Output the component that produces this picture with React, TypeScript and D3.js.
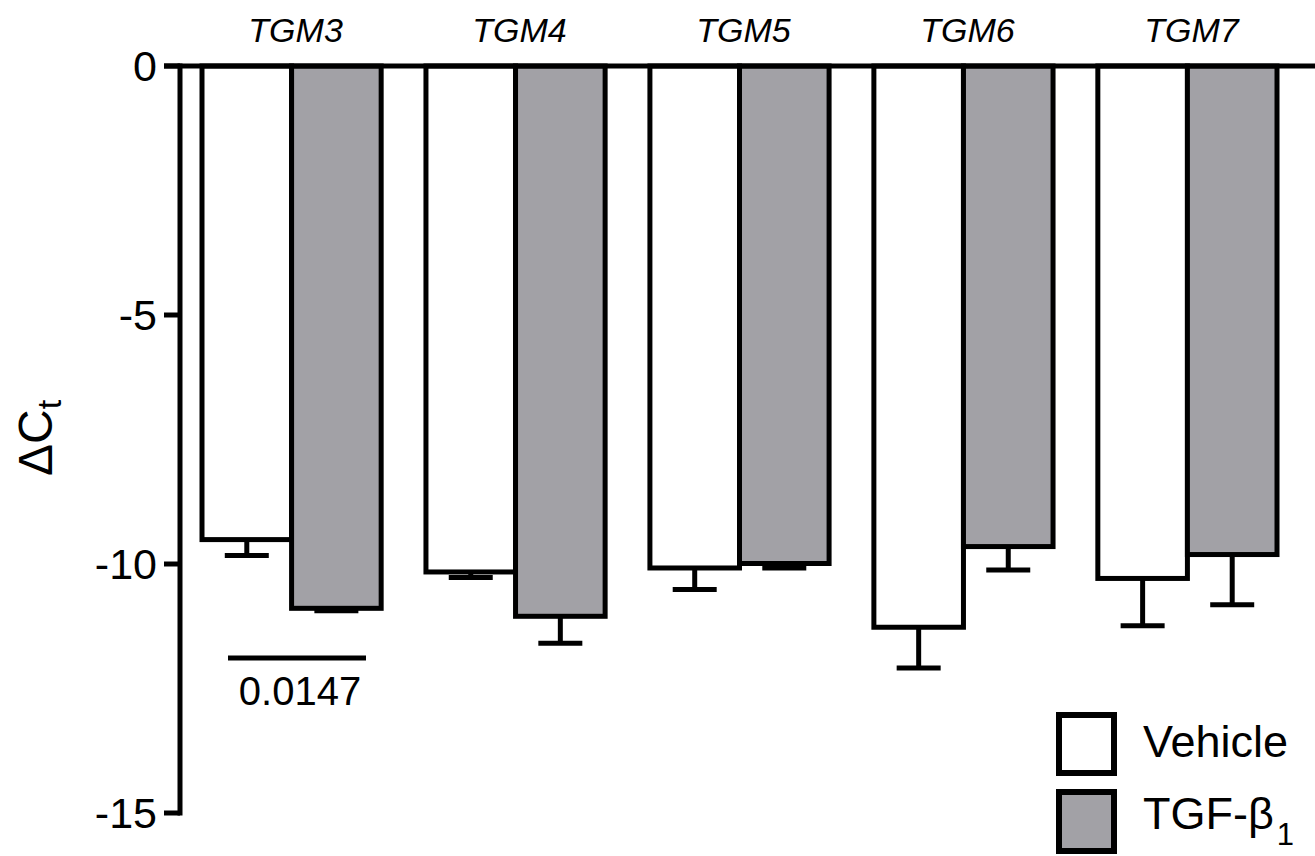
import React from "react";
import * as d3 from "d3";

const categories = ["TGM3", "TGM4", "TGM5", "TGM6", "TGM7"];
const seriesNames = ["Vehicle", "TGF-β1"];
const vehicleMean = [-9.51, -10.16, -10.08, -11.27, -10.29];
const vehicleSem = [0.32, 0.11, 0.43, 0.82, 0.95];
const tgfMean = [-10.89, -11.05, -9.99, -9.65, -9.81];
const tgfSem = [0.05, 0.54, 0.09, 0.47, 1.01];
const yTicks = [0, -5, -10, -15];
const sigLabel = "0.0147";

const W = 1315;
const H = 856;
const FONT = "'Liberation Sans', Arial, Helvetica, sans-serif";
const GRAY = "#a2a1a6";

export default function App() {
  const y = d3.scaleLinear().domain([0, -15]).range([66, 813]);
  const x0 = d3.scaleBand<string>().domain(categories).range([202, 1277]).paddingInner(0.2).paddingOuter(0);
  const x1 = d3.scaleBand<string>().domain(seriesNames).range([0, x0.bandwidth()]).padding(0);
  const axisX = 180;
  const sw = 5;
  const capHalf = 22;

  const series = [
    { name: seriesNames[0], mean: vehicleMean, sem: vehicleSem, fill: "#ffffff" },
    { name: seriesNames[1], mean: tgfMean, sem: tgfSem, fill: GRAY },
  ];

  return (
    <svg width={W} height={H} style={{ position: "absolute", left: 0, top: 0, background: "#fff" }} fontFamily={FONT}>
      {/* bars */}
      {series.map((s) =>
        categories.map((c, i) => {
          const bx = (x0(c) ?? 0) + (x1(s.name) ?? 0);
          const bw = x1.bandwidth();
          const yv = y(s.mean[i]);
          const ye = y(s.mean[i] - s.sem[i]);
          const cx = bx + bw / 2;
          return (
            <g key={s.name + c}>
              <line x1={cx} x2={cx} y1={yv} y2={ye} stroke="#000" strokeWidth={sw} />
              <line x1={cx - capHalf} x2={cx + capHalf} y1={ye} y2={ye} stroke="#000" strokeWidth={sw} />
              <rect x={bx} y={y(0)} width={bw} height={yv - y(0)} fill={s.fill} stroke="#000" strokeWidth={sw} />
            </g>
          );
        })
      )}
      {/* axes */}
      <line x1={164} x2={W} y1={y(0)} y2={y(0)} stroke="#000" strokeWidth={sw} />
      <line x1={axisX} x2={axisX} y1={y(0) - 2.5} y2={y(-15) + 2.5} stroke="#000" strokeWidth={sw} />
      {yTicks.map((t) => (
        <g key={t}>
          <line x1={164} x2={axisX} y1={y(t)} y2={y(t)} stroke="#000" strokeWidth={sw} />
          <text x={157} y={y(t)} dy="0.36em" textAnchor="end" fontSize={43} fill="#000">
            {t === 0 ? "0" : String(t)}
          </text>
        </g>
      ))}
      {/* category labels */}
      {categories.map((c) => (
        <text key={c} x={(x0(c) ?? 0) + x0.bandwidth() / 2 + 4} y={42} textAnchor="middle" fontSize={34} fontStyle="italic" fill="#000">
          {c}
        </text>
      ))}
      {/* y title */}
      <text transform={`translate(52,438) rotate(-90)`} textAnchor="middle" fontSize={48} fill="#000">
        ΔC<tspan fontSize={34} dy={9}>t</tspan>
      </text>
      {/* significance */}
      <line x1={228} x2={366} y1={658} y2={658} stroke="#000" strokeWidth={sw} />
      <text x={300} y={705} textAnchor="middle" fontSize={40} fill="#000">{sigLabel}</text>
      {/* legend */}
      <rect x={1059} y={715} width={55} height={58} fill="#fff" stroke="#000" strokeWidth={6} />
      <text x={1143} y={757} fontSize={45} fill="#000">Vehicle</text>
      <rect x={1059} y={792} width={55} height={59} fill={GRAY} stroke="#000" strokeWidth={6} />
      <text x={1143} y={829} fontSize={45} fill="#000">
        TGF-β<tspan fontSize={31} dx={3} dy={16}>1</tspan>
      </text>
    </svg>
  );
}
